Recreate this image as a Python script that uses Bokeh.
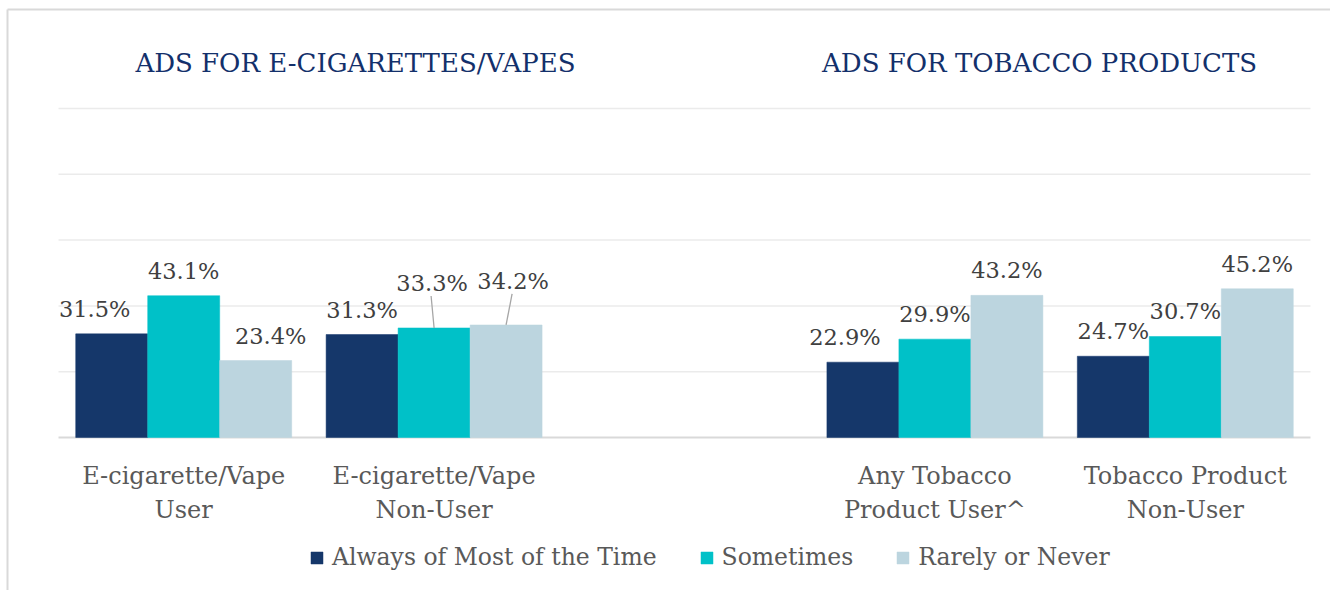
from bokeh.plotting import figure
from bokeh.models import Range1d, Legend, LegendItem, ColumnDataSource
from bokeh.core.properties import value
from bokeh.embed import file_html
from bokeh.resources import INLINE

# ---------------- data ----------------
groups = ["E-cigarette/Vape\nUser", "E-cigarette/Vape\nNon-User",
          "Any Tobacco\nProduct User^", "Tobacco Product\nNon-User"]
group_slots = [0, 1, 3, 4]          # slot 2 is the empty gap between the two panels
series = ["Always of Most of the Time", "Sometimes", "Rarely or Never"]
always = [31.5, 31.3, 22.9, 24.7]
sometimes = [43.1, 33.3, 29.9, 30.7]
rarely = [23.4, 34.2, 43.2, 45.2]
titles = ["ADS FOR E-CIGARETTES/VAPES", "ADS FOR TOBACCO PRODUCTS"]
grid_ticks = [20, 40, 60, 80, 100]

# ---------------- style / layout ----------------
colors = ["#15376A", "#00C1C8", "#BCD5DF"]
FONT = "DejaVu Serif"
W, H = 1330, 590
FRAME_LEFT, FRAME_BASE = 58, 437   # canvas px of slot 0 / value 0
PX_X = 250.4      # px per slot
PX_Y = 3.29       # px per percentage point
n_slots = 5
bar_w = 0.2875
offsets = [-bar_w, 0.0, bar_w]
# label nudges in screen px: dx (right), gap above bar top
label_dx = [[-17, 0, -18, 0], [0, -2, 0, 0], [15, 7, 0, 0]]
label_gap = [[17, 17, 17, 17], [17, 37, 17, 17], [17, 36, 17, 17]]
leader = [[False] * 4, [False, True, False, False], [False, True, False, False]]
BASELINE_FIX = 8
title_x = [1.186, 3.918]

x_start = -FRAME_LEFT / PX_X
x_end = x_start + W / PX_X
y_top = FRAME_BASE / PX_Y
y_bot = y_top - H / PX_Y

p = figure(width=W, height=H, output_backend="svg", toolbar_location=None,
           x_range=Range1d(x_start, x_end), y_range=Range1d(y_bot, y_top),
           x_axis_location=None, y_axis_location=None,
           min_border=0, min_border_left=0, min_border_right=0,
           min_border_top=0, min_border_bottom=0)
p.outline_line_color = None
p.xgrid.visible = False
p.ygrid.visible = False
p.background_fill_color = "white"
p.border_fill_color = "white"

# outer chart border (top and left edges visible in the crop)
bx = x_start + 7 / PX_X
by = y_top - 9 / PX_Y
p.segment(x0=[bx, bx], y0=[by, by], x1=[x_end + 1, bx], y1=[by, y_bot - 1],
          line_color="#d9d9d9", line_width=2)

# gridlines
p.segment(x0=[0] * len(grid_ticks), x1=[n_slots] * len(grid_ticks), y0=grid_ticks, y1=grid_ticks,
          line_color="#ebebeb", line_width=1.5)
p.segment(x0=[0], x1=[n_slots], y0=[0], y1=[0], line_color="#d9d9d9", line_width=2)

all_vals = [always, sometimes, rarely]
renderers = []
for si, vals in enumerate(all_vals):
    xs = [s + 0.5 + offsets[si] for s in group_slots]
    src = ColumnDataSource(dict(x=xs, top=vals,
                                lbl=[f"{v:.1f}%" for v in vals],
                                dx=label_dx[si],
                                dy=[-g - BASELINE_FIX for g in label_gap[si]]))
    r = p.vbar(x="x", top="top", width=bar_w, bottom=0, source=src,
               fill_color=colors[si], line_color=colors[si], line_width=0.5)
    renderers.append(r)
    p.text(x="x", y="top", text="lbl", source=src, x_offset="dx", y_offset="dy",
           text_align="center", text_baseline="alphabetic",
           text_font=value(FONT), text_font_size="22.5px", text_color="#404040")
    # leader lines for lifted labels
    lx0, lx1, ly0, ly1 = [], [], [], []
    for gi, v in enumerate(vals):
        if leader[si][gi]:
            lx0.append(xs[gi])
            ly0.append(v)
            lx1.append(xs[gi] + (label_dx[si][gi] - 1) / PX_X)
            ly1.append(v + (label_gap[si][gi] - 5) / PX_Y)
    if lx0:
        p.segment(x0=lx0, y0=ly0, x1=lx1, y1=ly1, line_color="#a6a6a6", line_width=1.3)

# category labels
p.text(x=[s + 0.5 for s in group_slots], y=[0] * len(groups), text=groups,
       y_offset=24, text_align="center", text_baseline="top", text_line_height=1.22,
       text_font=value(FONT), text_font_size="24px", text_color="#595959")

# panel titles
p.text(x=title_x, y=[100, 100], text=titles, y_offset=-33 - BASELINE_FIX - 5,
       text_align="center", text_baseline="alphabetic",
       text_font=value(FONT), text_font_size="26px", text_color="#13306B")

legend = Legend(items=[LegendItem(label=series[i], renderers=[renderers[i]]) for i in range(3)],
                orientation="horizontal", location=(309, 19),
                label_text_font=FONT, label_text_font_size="23.5px", label_text_color="#595959",
                glyph_width=15, glyph_height=15, label_standoff=8, spacing=42,
                padding=0, margin=0, border_line_color=None, background_fill_alpha=0)
p.add_layout(legend)

open("out.html", "w").write(file_html(p, INLINE))
